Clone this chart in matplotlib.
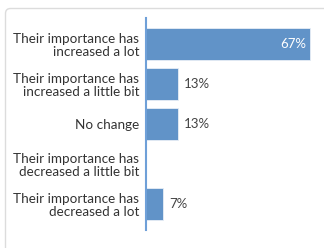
import matplotlib.pyplot as plt
from matplotlib.path import Path
from matplotlib.patches import PathPatch

categories = [
    "Their importance has\nincreased a lot",
    "Their importance has\nincreased a little bit",
    "No change",
    "Their importance has\ndecreased a little bit",
    "Their importance has\ndecreased a lot",
]
values = [67, 13, 13, 0, 7]
labels = ["67%", "13%", "13%", "", "7%"]

BAR = "#6193c8"
AXIS = "#6fa0d8"
TEXT = "#333333"

plt.rcParams['font.family'] = ['Lato', 'DejaVu Sans']


def main():
    W, H = 324, 248
    fig = plt.figure(figsize=(W / 100, H / 100), dpi=100)

    # card border: only left and top edges show, in pixel units
    top = H - 8.5
    verts = [(5.5, -5), (5.5, top - 5), (5.5, top), (10.5, top), (W + 10, top)]
    codes = [Path.MOVETO, Path.LINETO, Path.CURVE3, Path.CURVE3, Path.LINETO]
    border = PathPatch(Path(verts, codes), transform=None, fill=False,
                       edgecolor="#dcdcdc", linewidth=1.0, zorder=-10)
    fig.add_artist(border)

    ax = fig.add_axes([146 / W, 18 / H, 1 - 146 / W, 212 / H])
    ax.set_zorder(5)
    ax.patch.set_alpha(0)
    y = list(range(len(values)))
    ax.barh(y, values, height=0.8, color=BAR, edgecolor="#e8eef6", linewidth=0.6)
    ax.set_xlim(0, 72.7)
    ax.set_ylim(4.65, -0.65)

    for i, (v, lab) in enumerate(zip(values, labels)):
        if not lab:
            continue
        if v > 40:
            ax.text(v - 1.5, i, lab, ha="right", va="center", color="white", fontsize=9.5)
        else:
            ax.text(v + 2.5, i, lab, ha="left", va="center", color="#444444", fontsize=9.5)

    ax.set_yticks(y)
    ax.set_yticklabels(categories, fontsize=9.7, color=TEXT, linespacing=1.15)
    ax.tick_params(axis="y", length=0, pad=5)
    ax.set_xticks([])
    for side in ["top", "right", "bottom"]:
        ax.spines[side].set_visible(False)
    ax.spines["left"].set_color(AXIS)
    ax.spines["left"].set_linewidth(1.5)

    fig.savefig("out.png", dpi=100)


if __name__ == '__main__':
    main()
